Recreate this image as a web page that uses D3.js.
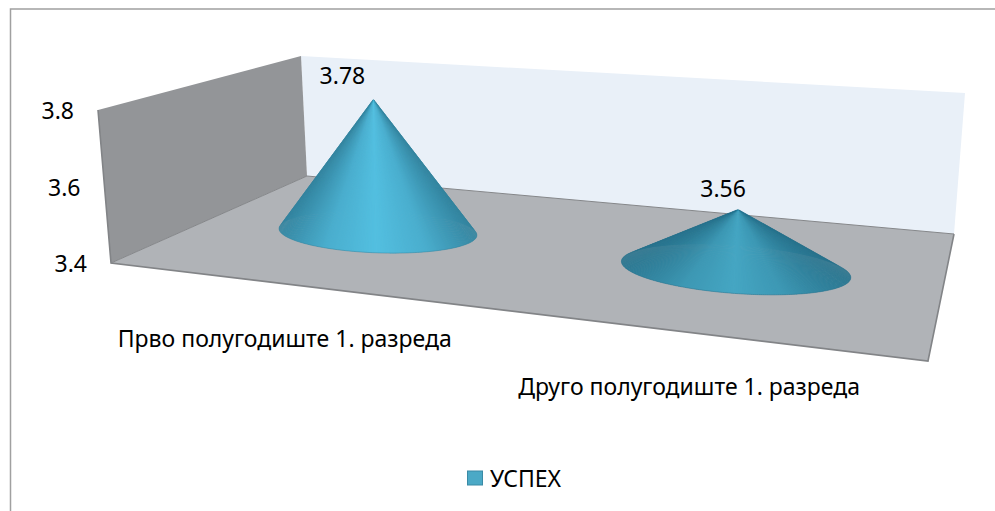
<!DOCTYPE html>
<html>
<head>
<meta charset="utf-8">
<script src="https://cdn.jsdelivr.net/npm/d3@7"></script>
<style>
  html, body { margin: 0; padding: 0; background: #fff; }
  svg { display: block; }
  text { font-family: "Noto Sans", sans-serif; fill: #000; }
</style>
</head>
<body>
<div id="chart"></div>
<script>
// ---- data ----
const categories = ['Прво полугодиште 1. разреда', 'Друго полугодиште 1. разреда']
const values = [3.78, 3.56]
const yTicks = [3.4, 3.6, 3.8]
const seriesName = 'УСПЕХ'

const width = 995
const height = 511

// ---- 3d box: corners of the floor and how far 3.4 -> 3.8 climbs at each one ----
const corners = {
  frontLeft: [111, 263], backLeft: [307, 176], backRight: [954, 234], frontRight: [928, 361]
}
const climbs = {
  frontLeft: [-13, -153], backLeft: [-6, -120], backRight: [11, -141], frontRight: [10, -175]
}

const yScale = d3.scaleLinear().domain([3.4, 3.8]).range([0, 1])
const xScale = d3.scalePoint().domain(categories).range([0.22, 0.715])
const depth = 0.55

function bilerp(c, u, v) {
  const front = d3.interpolateArray(c.frontLeft, c.frontRight)(u)
  const back = d3.interpolateArray(c.backLeft, c.backRight)(u)
  return d3.interpolateArray(front, back)(v)
}

function project(u, v, value) {
  const p = bilerp(corners, u, v)
  const up = bilerp(climbs, u, v)
  const k = yScale(value)
  return [p[0] + up[0] * k, p[1] + up[1] * k]
}

const topOf = (u, v) => project(u, v, 3.8)
const poly = pts => 'M' + pts.map(p => p.join(',')).join('L') + 'Z'

const svg = d3.select('#chart').append('svg')
  .attr('width', width).attr('height', height)

// ---- chart frame ----
svg.append('rect')
  .attr('x', 10.5).attr('y', 9).attr('width', width + 20).attr('height', height + 20)
  .attr('fill', '#fff').attr('stroke', '#a0a0a0').attr('stroke-width', 1.5)

// ---- walls and floor ----
svg.append('path')
  .attr('d', poly([project(0, 1, 3.4), project(1, 1, 3.4), topOf(1, 1), topOf(0, 1)]))
  .attr('fill', '#e9f0f8')

svg.append('path')
  .attr('d', poly([project(0, 0, 3.4), project(0, 1, 3.4), topOf(0, 1), topOf(0, 0)]))
  .attr('fill', '#939598')

svg.append('path')
  .attr('d', poly([project(0, 0, 3.4), project(0, 1, 3.4), project(1, 1, 3.4), project(1, 0, 3.4)]))
  .attr('fill', '#b0b3b7')

svg.append('path')
  .attr('d', d3.line()([topOf(0, 0), project(0, 0, 3.4), project(1, 0, 3.4), project(1, 1, 3.4)]))
  .attr('fill', 'none').attr('stroke', '#828487').attr('stroke-width', 1.6)

svg.append('path')
  .attr('d', d3.line()([project(0, 0, 3.4), project(0, 1, 3.4), project(1, 1, 3.4)]))
  .attr('fill', 'none').attr('stroke', '#85878a').attr('stroke-width', 1)

// ---- cones ----
const coneStyles = [
  { rx: 99, ry: 21, tilt: 2, edge: '#33849f', mid: '#53bfe0', labelDx: -31, labelDy: -24 },
  { rx: 115, ry: 24, tilt: 4.2, edge: '#28738d', mid: '#45a6c3', labelDx: -15, labelDy: -21 }
]

categories.forEach((cat, i) => {
  const style = coneStyles[i]
  const u = xScale(cat)
  const center = project(u, depth, 3.4)
  const apex = project(u, depth, values[i])
  const tilt = style.tilt * Math.PI / 180

  const rim = t => {
    const x = style.rx * Math.cos(t)
    const y = style.ry * Math.sin(t)
    return [
      center[0] + x * Math.cos(tilt) - y * Math.sin(tilt),
      center[1] + x * Math.sin(tilt) + y * Math.cos(tilt)
    ]
  }

  // shade each wedge by its direction seen from the apex, so the back of the rim matches the front
  const angleOf = p => Math.atan2(p[0] - apex[0], p[1] - apex[1])
  const rimAngles = d3.range(0, 360, 2).map(a => angleOf(rim(a * Math.PI / 180)))
  const angleDomain = d3.extent(rimAngles)
  const midAngle = angleOf(rim(Math.PI / 2))
  const shade = d3.scaleLinear()
    .domain([angleDomain[0], (angleDomain[0] + midAngle) / 2, midAngle, (angleDomain[1] + midAngle) / 2, angleDomain[1]])
    .range([style.edge, d3.interpolateRgb(style.edge, style.mid)(0.72), style.mid,
      d3.interpolateRgb(style.edge, style.mid)(0.72), style.edge])

  const g = svg.append('g').attr('class', 'cone')

  d3.range(180, 360, 1).concat(d3.range(0, 180, 1)).forEach(a => {
    const t0 = a * Math.PI / 180
    const t1 = (a + 1.6) * Math.PI / 180
    g.append('path')
      .attr('d', poly([apex, rim(t0), rim(t1)]))
      .attr('fill', shade(angleOf(rim(t0))))
  })

  // silhouette
  const hull = d3.polygonHull([apex].concat(d3.range(0, 360, 3).map(a => rim(a * Math.PI / 180))))
  g.append('path')
    .attr('d', poly(hull))
    .attr('fill', 'none').attr('stroke', style.edge).attr('stroke-width', 0.7).attr('stroke-opacity', 0.7)

  svg.append('text')
    .attr('x', apex[0] + style.labelDx).attr('y', apex[1] + style.labelDy)
    .attr('text-anchor', 'middle').attr('dominant-baseline', 'central')
    .attr('font-size', 23)
    .text(values[i].toFixed(2))
})

// ---- value axis labels ----
svg.append('g').selectAll('text')
  .data(yTicks)
  .join('text')
  .attr('x', d => project(0, 0, d)[0] - 24)
  .attr('y', d => project(0, 0, d)[1])
  .attr('text-anchor', 'end').attr('dominant-baseline', 'central')
  .attr('font-size', 23)
  .text(d => d.toFixed(1))

// ---- category labels ----
svg.append('g').selectAll('text')
  .data(categories)
  .join('text')
  .attr('x', d => project(xScale(d), 0, 3.4)[0] - 6)
  .attr('y', d => project(xScale(d), 0, 3.4)[1] + 53)
  .attr('text-anchor', 'middle').attr('dominant-baseline', 'central')
  .attr('font-size', 23)
  .text(d => d)

// ---- legend ----
svg.append('rect')
  .attr('x', 467.5).attr('y', 471).attr('width', 15).attr('height', 14)
  .attr('fill', '#4ba9c6').attr('stroke', '#3a8aa5').attr('stroke-width', 1)

svg.append('text')
  .attr('x', 490).attr('y', 478)
  .attr('dominant-baseline', 'central')
  .attr('font-size', 23)
  .text(seriesName)
</script>
</body>
</html>
